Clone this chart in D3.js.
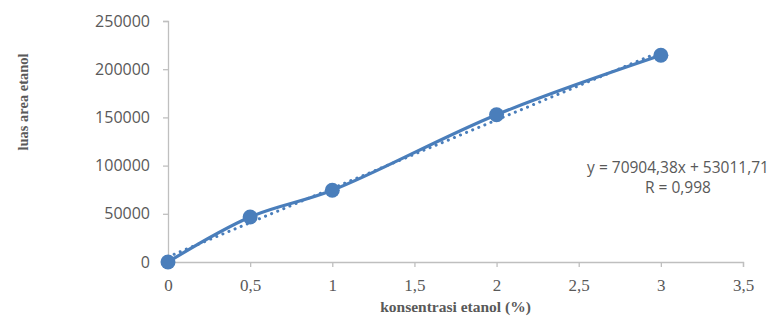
<!DOCTYPE html>
<html>
<head>
<meta charset="utf-8">
<script src="https://cdn.jsdelivr.net/npm/d3@7"></script>
<style>
  body { margin: 0; background: #fff; }
  svg { display: block; }
</style>
</head>
<body>
<figure id="chart" style="margin:0"></figure>
<script>
// data
const konsentrasi = [0, 0.5, 1, 2, 3];
const luasArea = [0, 46700, 74400, 152800, 214400];
const xTicks = [0, 0.5, 1, 1.5, 2, 2.5, 3, 3.5];
const yTicks = [0, 50000, 100000, 150000, 200000, 250000];
const equationLines = ['y = 70904,38x + 53011,71', 'R = 0,998'];
const xTitle = 'konsentrasi etanol (%)';
const yTitle = 'luas area etanol';

const width = 774;
const height = 320;
const blue = '#4a7ebb';
const grey = '#595959';
const axisGrey = '#bfbfbf';

const svg = d3.select('figure#chart')
  .append('svg')
  .attr('width', width)
  .attr('height', height);

svg.append('rect').attr('width', width).attr('height', height).attr('fill', '#fff');

// scales
const x = d3.scaleLinear().domain([0, 3.5]).range([168, 743]);
const y = d3.scaleLinear().domain([0, 250000]).range([262, 21]);

const comma = d => String(d).replace('.', ',');

// x axis
const gx = svg.append('g')
  .attr('transform', 'translate(0,' + y(0) + ')')
  .call(d3.axisBottom(x).tickValues(xTicks).tickFormat(comma).tickSize(5).tickPadding(12));
gx.select('.domain').attr('stroke', axisGrey).attr('stroke-width', 1.3);
gx.selectAll('.tick line').attr('stroke', axisGrey).attr('stroke-width', 1.3);
gx.selectAll('text')
  .attr('fill', grey)
  .style('font-family', '"Liberation Serif", "Times New Roman", serif')
  .style('font-size', '17px');

// y axis
const gy = svg.append('g')
  .attr('transform', 'translate(' + x(0) + ',0)')
  .call(d3.axisLeft(y).tickValues(yTicks).tickFormat(d => d).tickSize(5).tickPadding(13));
gy.select('.domain').attr('stroke', axisGrey).attr('stroke-width', 1.3);
gy.selectAll('.tick line').attr('stroke', axisGrey).attr('stroke-width', 1.3);
gy.selectAll('text')
  .attr('fill', grey)
  .style('font-family', '"Open Sans", sans-serif')
  .style('font-size', '16px');

const points = konsentrasi.map((k, i) => ({ k: k, v: luasArea[i] }));

// linear trendline (least squares on the points)
const mx = d3.mean(konsentrasi);
const my = d3.mean(luasArea);
const slope = d3.sum(points, p => (p.k - mx) * (p.v - my)) / d3.sum(points, p => (p.k - mx) * (p.k - mx));
const intercept = my - slope * mx;
const trendX = d3.extent(konsentrasi);

svg.append('line')
  .attr('x1', x(trendX[0])).attr('y1', y(intercept + slope * trendX[0]))
  .attr('x2', x(trendX[1])).attr('y2', y(intercept + slope * trendX[1]))
  .attr('stroke', blue)
  .attr('stroke-width', 3)
  .attr('stroke-linecap', 'round')
  .attr('stroke-dasharray', '0.1 6.5');

// smoothed series line
const line = d3.line()
  .x(d => x(d.k))
  .y(d => y(d.v))
  .curve(d3.curveCatmullRom.alpha(0.5));

svg.append('path')
  .datum(points)
  .attr('d', line)
  .attr('fill', 'none')
  .attr('stroke', blue)
  .attr('stroke-width', 3.2)
  .attr('stroke-linejoin', 'round');

// markers
svg.selectAll('circle.pt')
  .data(points)
  .enter()
  .append('circle')
  .attr('class', 'pt')
  .attr('cx', d => x(d.k))
  .attr('cy', d => y(d.v))
  .attr('r', 7.5)
  .attr('fill', blue);

// equation label
svg.append('g')
  .selectAll('text')
  .data(equationLines)
  .enter()
  .append('text')
  .attr('x', 678)
  .attr('y', (d, i) => 173 + i * 20)
  .attr('text-anchor', 'middle')
  .attr('fill', grey)
  .style('font-family', '"Open Sans", sans-serif')
  .style('font-size', '15.5px')
  .text(d => d);

// axis titles
svg.append('text')
  .attr('x', (x.range()[0] + x.range()[1]) / 2)
  .attr('y', 312)
  .attr('text-anchor', 'middle')
  .attr('fill', grey)
  .style('font-family', '"Liberation Serif", "Times New Roman", serif')
  .style('font-weight', 'bold')
  .style('font-size', '15.5px')
  .text(xTitle);

svg.append('text')
  .attr('transform', 'translate(28,102) rotate(-90)')
  .attr('text-anchor', 'middle')
  .attr('fill', grey)
  .style('font-family', '"Liberation Serif", "Times New Roman", serif')
  .style('font-weight', 'bold')
  .style('font-size', '14.5px')
  .text(yTitle);
</script>
</body>
</html>
